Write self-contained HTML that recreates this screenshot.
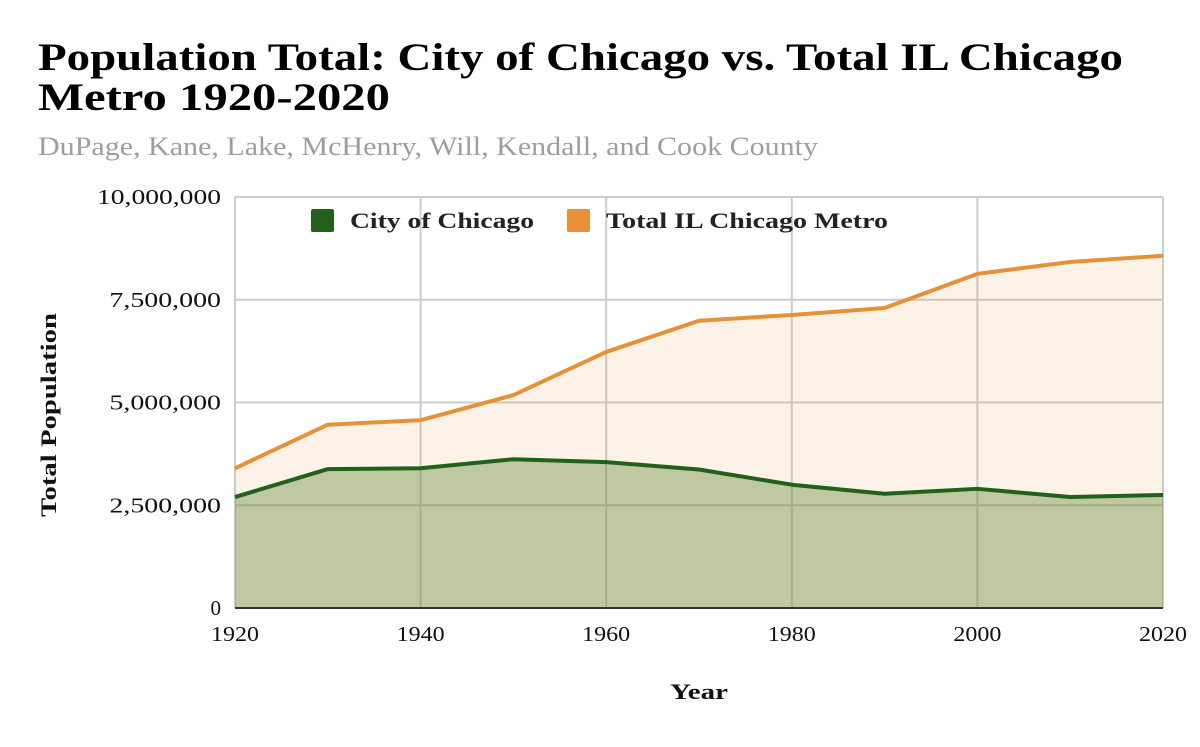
<!DOCTYPE html>
<html><head><meta charset="utf-8"><style>
body{margin:0;background:#fff;width:1200px;height:742px;overflow:hidden;font-family:"Liberation Serif",serif;}
</style></head><body>
<svg width="1200" height="742" xmlns="http://www.w3.org/2000/svg" font-family="Liberation Serif, serif">
<text x="38" y="70" font-size="39" font-weight="bold" fill="#000" textLength="1085" lengthAdjust="spacingAndGlyphs">Population Total: City of Chicago vs. Total IL Chicago</text>
<text x="38" y="110" font-size="39" font-weight="bold" fill="#000" textLength="352" lengthAdjust="spacingAndGlyphs">Metro 1920-2020</text>
<text x="38" y="155" font-size="26" fill="#9e9e9e" textLength="780" lengthAdjust="spacingAndGlyphs">DuPage, Kane, Lake, McHenry, Will, Kendall, and Cook County</text>
<g id="grid"></g>
<g id="areas"></g>
<g id="ticks"></g>
<g>
<rect x="311" y="209" width="23" height="23" rx="2" fill="#22611a"/>
<text x="350" y="228" font-size="22" font-weight="bold" fill="#222" textLength="184" lengthAdjust="spacingAndGlyphs">City of Chicago</text>
<rect x="567" y="209" width="23" height="23" rx="2" fill="#e69138"/>
<text x="606" y="228" font-size="22" font-weight="bold" fill="#222" textLength="282" lengthAdjust="spacingAndGlyphs">Total IL Chicago Metro</text>
</g>
<text transform="translate(56,415) rotate(-90)" text-anchor="middle" font-size="22" font-weight="bold" fill="#111" textLength="204" lengthAdjust="spacingAndGlyphs">Total Population</text>
<text x="699" y="699" text-anchor="middle" font-size="22" font-weight="bold" fill="#111" textLength="58" lengthAdjust="spacingAndGlyphs">Year</text>
</svg>
<script>
const years=[1920,1930,1940,1950,1960,1970,1980,1990,2000,2010,2020];
const cityValues=[2.70,3.38,3.40,3.62,3.55,3.37,3.00,2.78,2.90,2.70,2.75];
const metroValues=[3.40,4.46,4.57,5.18,6.23,6.99,7.13,7.30,8.13,8.42,8.57];
const yTicks=[0,2.5,5,7.5,10];
const yTickLabels=["0","2,500,000","5,000,000","7,500,000","10,000,000"];
const xTickLabels=["1920","1940","1960","1980","2000","2020"];
const NS="http://www.w3.org/2000/svg";
const L=235,R=1163,T=197,B=608;
const x=v=>L+(v-1920)/100*(R-L);
const y=v=>B-v/10*(B-T);
function mk(tag,attrs,parent){const e=document.createElementNS(NS,tag);for(const k in attrs)e.setAttribute(k,attrs[k]);parent.appendChild(e);return e;}
const grid=document.getElementById('grid'),areas=document.getElementById('areas'),ticks=document.getElementById('ticks');
yTicks.forEach((t,i)=>{
 const l=mk('line',{x1:L,x2:R,y1:y(t),y2:y(t),stroke:'#ccc','stroke-width':2},grid);
 
 
 const s=yTickLabels[i];
 const tx=mk('text',{x:221,y:y(t)+7,'text-anchor':'end','font-size':21,fill:'#111'},ticks);
 if(s.length>1){tx.setAttribute('textLength',s.length*12.4);tx.setAttribute('lengthAdjust','spacingAndGlyphs');}
 tx.textContent=s;
 
 
});
xTickLabels.forEach(s=>{
 const v=+s;
 const l=mk('line',{x1:x(v),x2:x(v),y1:T,y2:B,stroke:'#ccc','stroke-width':2},grid);
 
 
 const tx=mk('text',{x:x(v),y:641,'text-anchor':'middle','font-size':21,fill:'#111',textLength:48,lengthAdjust:'spacingAndGlyphs'},ticks);
 tx.textContent=s;
 
 
});
function pts(vals){return years.map((yr,i)=>x(yr)+','+y(vals[i])).join(' ');}
const ma=mk('polygon',{points:x(1920)+','+B+' '+pts(metroValues)+' '+x(2020)+','+B,fill:'#e69138','fill-opacity':0.12},areas);


const ca=mk('polygon',{points:x(1920)+','+B+' '+pts(cityValues)+' '+x(2020)+','+B,fill:'#6b8f3e','fill-opacity':0.42},areas);


const bl=mk('line',{x1:L,x2:R,y1:B,y2:B,stroke:'#333','stroke-width':2},areas);


const ml=mk('polyline',{points:pts(metroValues),fill:'none',stroke:'#e69138','stroke-width':4,'stroke-linejoin':'round'},areas);


const cl=mk('polyline',{points:pts(cityValues),fill:'none',stroke:'#22611a','stroke-width':4,'stroke-linejoin':'round'},areas);


</script>
</body></html>
